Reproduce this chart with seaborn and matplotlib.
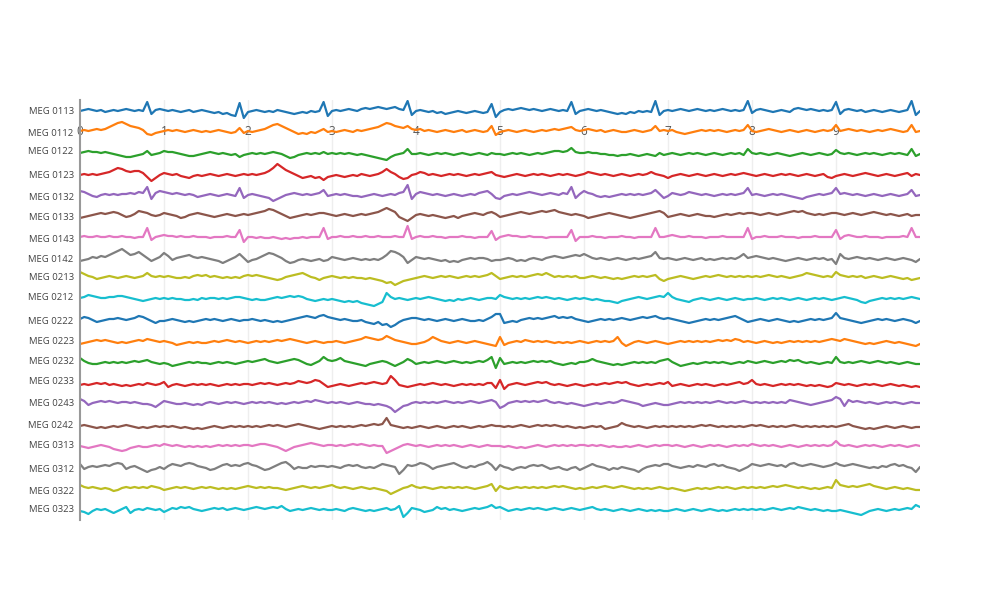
import numpy as np
import pandas as pd
import matplotlib
matplotlib.use("Agg")
import matplotlib.pyplot as plt
import seaborn as sns

# ---------------- data (signal deflection per channel, sampled every 0.05 s) ----------------
channels = ["MEG 0113", "MEG 0112", "MEG 0122", "MEG 0123", "MEG 0132",
            "MEG 0133", "MEG 0143", "MEG 0142", "MEG 0213", "MEG 0212",
            "MEG 0222", "MEG 0223", "MEG 0232", "MEG 0233", "MEG 0243",
            "MEG 0242", "MEG 0313", "MEG 0312", "MEG 0322", "MEG 0323"]

time_s = np.linspace(0, 10, 201)
x_ticks = [0, 1, 2, 3, 4, 5, 6, 7, 8, 9]

meg_0113 = [0,1,2,1,0,1,-1,0,1,0,1,2,1,0,1,0,9,-3,1,2,
            1,0,1,0,-1,0,1,-1,0,1,0,-1,-2,-1,-3,-2,-4,-5,8,-7,
            -1,0,1,0,-1,0,-1,1,0,-1,-2,-3,-2,-1,-2,0,-1,0,9,-5,
            0,1,0,1,2,1,0,2,3,2,3,4,3,2,3,4,2,1,10,-4,
            0,1,0,-1,0,-2,-1,-3,-2,-1,0,-1,-2,-1,0,-1,-2,-1,7,-6,
            -1,1,2,1,2,3,2,1,2,1,0,1,2,1,0,1,0,9,-3,0,
            1,2,1,0,1,0,-1,-2,-3,-2,-3,-1,-2,0,-1,0,-1,10,-4,0,
            1,0,1,2,1,0,1,2,1,0,1,0,1,2,1,0,1,0,1,10,
            -2,1,2,1,0,-1,0,1,0,-1,2,3,2,1,2,1,0,1,0,1,
            9,-3,1,2,1,0,1,-1,0,1,0,-1,0,1,0,-1,0,1,10,-4,
            0]
meg_0112 = [0,1,0,1,2,1,2,4,6,8,9,7,5,4,3,1,-3,-4,-2,-1,
            0,1,0,1,0,-1,0,1,0,-1,0,-1,0,1,0,-1,-2,-1,3,-2,
            0,-1,0,1,2,4,6,7,5,3,1,-1,-3,-2,-3,-1,-2,0,2,-1,
            0,-1,0,1,0,-1,1,0,1,2,3,4,6,8,7,5,4,3,5,2,
            1,2,0,1,0,-1,0,1,0,-1,0,1,-1,0,1,0,-1,0,5,-4,
            -1,0,1,0,-1,0,1,0,-1,0,1,0,1,2,1,2,3,4,1,0,
            1,2,1,0,1,-1,0,1,0,-1,-1,0,1,0,-1,0,1,5,0,1,
            0,1,-1,-2,-3,-2,-1,0,1,0,1,0,1,0,-1,0,1,0,1,6,
            0,-1,0,1,2,1,0,-1,0,1,0,-1,0,1,0,-1,0,1,0,1,
            6,0,1,2,1,0,1,0,-1,0,1,0,1,2,1,0,-1,0,6,-1,
            0]
meg_0122 = [1,2,3,2,2,1,2,1,0,-1,-2,-3,-3,-2,-1,0,3,-1,0,1,
            3,2,2,1,0,-1,-2,-2,-1,0,1,2,1,0,1,0,-1,0,-3,-1,
            0,1,0,1,0,1,2,1,0,-2,-4,-3,-1,0,1,0,1,0,2,0,
            1,0,1,0,1,0,-1,0,-1,-2,-3,-4,-5,-6,-3,-1,0,1,5,0,
            0,1,0,-1,0,1,0,1,0,-1,0,1,0,-1,0,1,0,-1,1,0,
            0,-1,0,1,0,1,0,-1,0,1,0,1,2,3,3,2,3,6,2,1,
            1,2,1,1,0,0,-1,-1,-2,-1,-1,0,-1,-2,-1,0,-1,-2,1,-1,
            0,1,0,-1,0,1,0,1,0,-1,0,1,0,-1,0,1,0,1,-1,5,
            1,0,1,0,-1,0,1,0,-1,-2,-1,0,1,0,-1,0,1,0,-1,0,
            4,1,0,1,0,-1,0,1,0,1,0,-1,0,1,0,1,0,-1,5,-2,
            0]
meg_0123 = [0,1,0,1,0,1,2,3,5,7,6,4,3,4,4,2,-2,-6,-3,0,
            2,1,0,1,-1,-2,-3,-1,0,-1,0,1,0,-1,0,1,0,-1,0,1,
            0,1,0,1,2,4,7,11,8,5,3,1,-1,-3,-2,-1,-3,-2,-5,-2,
            -1,0,-1,-2,-1,0,-1,1,0,-1,0,1,3,6,3,1,-2,-4,-3,0,
            1,3,2,0,1,0,-1,0,1,0,1,0,-1,0,1,0,1,2,3,0,
            -1,-2,-1,0,1,0,-1,0,1,0,1,0,-1,0,1,0,1,0,-1,0,
            1,3,2,1,0,1,0,-1,0,1,0,-1,0,1,0,1,3,1,0,-1,
            -3,-1,0,1,0,-1,0,1,0,-1,0,1,0,-1,0,1,0,1,2,1,
            0,-1,0,1,0,-1,0,1,0,1,0,-1,0,1,0,-1,0,1,-2,-3,
            -1,0,1,0,-1,0,1,2,1,0,-1,0,1,0,-1,0,1,2,-1,1,
            0]
meg_0132 = [4,3,1,-1,-2,0,1,0,1,0,1,1,2,1,3,2,8,-4,2,4,
            3,2,1,2,1,0,1,0,-2,-1,0,1,0,-1,0,1,0,-1,7,-3,
            0,1,0,-1,-2,-3,-6,-4,-2,0,1,2,1,0,1,0,1,2,5,-1,
            0,1,0,1,0,-1,-1,-2,-1,0,1,0,-1,0,1,0,2,3,10,-4,
            1,3,2,1,0,1,0,-1,0,1,0,-1,0,1,0,2,3,4,1,-3,
            -4,-1,0,1,0,1,2,3,2,1,0,1,2,1,0,2,1,8,-3,1,
            4,2,1,-1,-2,-1,-2,-1,0,1,0,1,0,1,0,1,2,5,1,-3,
            -1,2,1,0,1,3,2,1,0,1,0,-1,0,1,0,1,0,1,2,7,
            0,1,0,-1,0,1,0,1,0,-1,-2,-3,-4,-2,-1,0,1,0,1,2,
            7,1,2,1,0,1,0,-1,0,1,0,-1,0,1,0,-1,0,1,5,-1,
            0]
meg_0133 = [-3,-2,-1,0,1,2,1,2,3,2,0,-2,-1,1,4,3,2,0,-1,0,
            2,1,0,-1,-3,-2,0,1,2,1,0,-1,-2,-1,0,1,0,-1,0,1,
            0,1,2,3,4,6,5,3,1,-1,-3,-2,-1,0,1,0,1,2,2,1,
            0,-1,0,1,0,-1,0,1,0,1,2,3,5,7,5,3,-2,-4,-6,-3,
            0,1,0,-1,0,-1,-2,-3,-2,-1,-3,-1,0,1,2,1,0,2,3,1,
            -2,-1,0,1,2,3,2,1,2,3,4,3,4,5,3,2,1,0,1,0,
            -1,-3,-2,-1,0,1,2,1,0,-1,-2,-3,-2,-1,0,1,2,3,4,2,
            -2,-1,0,1,0,-1,0,1,0,-1,-1,-2,-1,0,1,0,1,2,1,2,
            2,1,0,1,2,1,0,1,2,3,4,3,4,2,1,0,1,0,1,2,
            2,1,0,1,2,1,0,1,2,3,2,1,0,1,0,-1,0,1,-1,0,
            0]
meg_0143 = [0,1,0,0,1,0,0,1,0,0,1,0,0,-1,0,0,9,-3,0,1,
            2,1,1,0,1,0,0,1,0,0,0,-1,0,0,0,1,0,0,7,-5,
            0,0,-1,0,-1,-1,0,-1,-2,-1,-2,-1,-1,0,-1,0,0,0,9,-2,
            0,0,1,0,0,1,0,0,1,0,0,1,0,0,0,1,0,0,11,-2,
            0,1,0,0,1,0,0,-1,0,0,0,1,0,0,-1,0,0,0,6,-3,
            0,1,2,1,1,0,0,1,0,0,0,-1,0,0,0,0,0,7,-4,0,
            0,0,1,0,0,-1,0,0,0,1,0,0,-1,0,0,0,0,9,0,0,
            1,2,1,0,0,1,0,0,0,-1,0,0,0,1,0,0,0,0,0,9,
            -2,0,0,1,0,0,0,1,0,0,0,-1,0,0,0,1,0,0,0,0,
            7,-2,1,2,1,0,0,1,0,0,0,-1,0,0,0,0,1,0,9,0,
            0]
meg_0142 = [-2,-1,0,2,1,3,2,4,6,8,10,7,4,5,7,4,1,-2,0,2,
            6,3,-1,1,2,3,4,2,1,2,1,0,-1,-2,-4,-2,0,2,5,1,
            -3,-1,0,2,4,6,5,3,1,-2,-4,-3,-1,0,-1,-2,-1,0,-2,-1,
            2,1,0,-1,0,1,0,-1,0,-1,0,-1,1,4,8,7,5,2,-4,-1,
            2,1,0,1,0,-1,-2,-1,-3,-2,-3,-1,0,1,0,1,1,0,-2,-1,
            -1,0,1,0,-2,-1,-2,0,1,0,-1,1,2,3,2,1,2,3,4,3,
            5,3,1,0,1,0,-1,0,1,0,-1,0,1,0,1,2,3,7,1,0,
            1,0,-1,0,1,0,-1,0,1,-1,0,-1,0,1,0,1,0,2,5,1,
            2,3,2,1,0,1,0,-1,-2,-1,0,1,0,-1,0,1,0,1,-1,0,
            -5,5,1,0,1,2,1,0,1,0,-1,0,1,0,-1,0,1,0,-1,-3,
            0]
meg_0213 = [5,3,1,0,-2,-1,0,1,0,-1,0,1,0,-1,0,1,4,1,0,1,
            0,1,0,-1,-1,0,-1,1,2,1,2,0,1,0,-1,0,-1,0,-1,1,
            2,1,2,1,0,-1,-2,-3,-2,0,1,2,3,4,2,0,-1,-3,-1,0,
            1,0,-1,0,-1,0,-1,-1,-2,-1,-2,-3,-4,-6,-5,-8,-6,-4,-3,-2,
            -1,0,1,0,-1,0,1,0,1,0,-1,0,1,0,1,0,1,2,4,1,
            -2,-1,0,1,0,1,0,1,2,3,2,4,2,0,1,0,1,0,1,-1,
            -1,0,1,0,-1,0,-1,-2,-1,-2,-1,0,1,0,1,0,1,2,-2,-4,
            -2,-1,0,1,0,-1,-2,-1,0,1,0,1,2,1,0,1,0,1,0,1,
            0,1,0,1,2,1,0,1,0,-1,0,1,2,4,3,2,1,0,1,0,
            5,2,1,0,1,0,1,-1,0,1,0,-1,0,1,0,-1,-2,-1,-3,-2,
            -1]
meg_0212 = [1,2,4,3,2,1,1,2,2,3,3,2,1,0,-1,-2,-1,0,1,0,
            1,0,1,0,0,-1,-1,0,-1,1,0,1,1,0,1,0,1,2,2,1,
            0,-1,0,-1,-1,0,1,2,1,2,3,2,3,2,0,-1,-2,-1,0,-1,
            0,-1,-2,-3,-2,-3,-2,-4,-5,-6,-7,-5,-3,6,2,0,1,0,-1,0,
            1,0,1,2,1,0,-1,-2,-1,-2,0,-1,0,1,0,-1,0,1,1,0,
            4,2,1,0,1,0,1,0,1,2,1,2,1,0,1,0,-1,0,1,0,
            1,0,-1,0,-1,-2,-2,-3,-4,-2,-1,0,1,2,1,0,1,2,3,2,
            6,2,0,-1,-2,-3,-1,0,1,0,-1,0,1,0,-1,0,1,0,-1,0,
            0,1,0,-1,0,1,0,1,0,-1,0,1,0,-1,0,1,0,1,0,-1,
            0,1,2,1,0,-1,-3,-4,-2,-1,0,1,0,1,0,1,0,1,2,1,
            0]
meg_0222 = [1,3,2,0,-2,-1,0,1,1,2,1,0,1,2,4,3,1,-1,-3,-1,
            -1,0,1,0,-1,-2,-1,-2,-1,0,1,0,1,0,-1,0,1,0,-1,0,
            0,1,0,-1,0,-1,-2,-1,-2,-1,0,1,2,3,4,3,2,4,5,3,
            2,1,0,1,0,-1,-1,0,-2,-3,-4,-2,-5,-4,-7,-5,-2,0,1,2,
            2,1,0,1,0,-1,0,1,0,-1,0,1,0,-1,-1,0,-1,1,3,6,
            6,-3,-2,-1,-2,0,1,2,1,2,1,2,3,4,2,3,2,3,1,0,
            -1,-2,-1,0,1,0,1,0,1,2,1,0,1,2,3,2,3,4,2,1,
            2,1,0,-1,-2,-3,-2,-1,0,1,0,1,0,1,2,3,4,2,0,-2,
            -1,0,1,0,-1,0,1,0,-1,-2,-1,-2,-1,0,1,0,1,0,1,2,
            7,2,1,0,-1,-2,-3,-2,-1,0,1,0,1,0,-1,0,1,0,-1,-3,
            -1]
meg_0223 = [-2,-1,0,1,2,1,2,1,0,-1,0,-1,0,1,2,1,3,2,1,0,
            1,0,-1,-3,-2,-1,0,-1,0,-1,-1,0,1,0,1,2,1,0,1,0,
            -1,0,1,0,1,0,1,2,1,2,3,2,1,0,-1,0,1,0,-1,0,
            0,1,0,-1,0,1,2,3,5,4,3,2,3,6,4,2,1,0,-1,-2,
            -2,-1,0,2,5,3,1,0,-1,0,1,0,-1,0,1,0,-1,-2,-3,-4,
            5,-3,-1,0,1,0,2,1,0,1,0,1,0,-1,0,-1,0,-1,0,1,
            0,-1,0,1,0,1,0,1,5,-1,-4,-2,0,1,0,-1,0,1,0,-1,
            -2,-1,0,1,0,1,0,1,0,1,0,1,2,1,2,1,3,2,0,1,
            0,-1,0,1,0,-1,0,-1,0,1,0,1,0,1,0,1,0,1,2,3,
            2,1,3,2,1,0,-1,-2,-1,-2,-1,0,1,0,-1,0,-1,-2,-3,-4,
            -2]
meg_0232 = [5,2,0,-1,-1,0,1,0,1,0,1,0,1,2,1,2,3,1,0,-1,
            0,-1,-3,-2,-1,0,1,0,1,0,0,-1,0,1,0,1,0,-1,0,1,
            2,1,2,3,4,2,1,0,1,2,3,4,3,1,-1,-2,0,2,6,3,
            2,3,5,2,1,0,-1,-2,-3,-1,0,1,2,1,-1,-3,-1,1,4,2,
            -1,0,1,0,1,2,1,0,1,2,1,0,1,0,1,2,1,3,6,-5,
            5,-1,0,1,0,1,0,1,2,1,2,1,2,0,-1,-2,-1,0,-1,1,
            1,2,4,2,1,0,-1,-2,-1,-2,-1,0,1,0,1,0,1,0,2,3,
            4,1,-1,-3,-2,-1,0,-1,0,1,0,1,0,1,0,-1,0,1,0,2,
            1,0,1,2,1,0,1,2,1,3,2,3,1,0,1,0,-1,0,1,0,
            6,1,0,1,0,1,2,1,0,1,2,1,0,1,0,-1,0,1,0,-1,
            -1]
meg_0233 = [0,1,0,1,2,1,2,0,1,0,-1,0,-1,0,1,0,2,1,0,1,
            3,-2,0,1,0,-1,0,1,0,1,0,1,0,-1,0,1,0,1,0,1,
            1,0,1,2,1,2,1,0,1,2,1,2,4,3,2,3,5,4,1,-2,
            -1,0,1,0,-1,0,1,2,1,2,3,2,1,2,9,5,0,-1,-2,-1,
            0,1,0,1,2,1,0,1,0,-1,0,1,0,1,0,1,0,2,2,-3,
            5,-4,0,1,2,1,0,1,2,3,2,3,1,0,1,0,-1,0,1,0,
            -1,0,1,0,1,2,1,2,3,2,3,1,0,-1,0,1,0,1,2,1,
            3,-1,0,1,0,-1,0,1,0,1,0,-1,0,1,0,1,2,3,1,2,
            5,1,0,1,0,-1,0,1,0,1,0,1,0,-1,0,-1,0,-1,-2,-1,
            2,1,0,1,0,-1,0,1,0,1,0,-1,0,1,0,-1,0,-1,-2,-1,
            -2]
meg_0243 = [4,2,-2,0,1,2,1,2,1,0,1,1,0,1,0,-1,-1,-2,-4,-1,
            2,1,0,-1,-1,0,-1,-2,-1,-2,0,1,0,-1,0,1,0,1,0,-1,
            0,1,0,1,0,1,0,-1,0,-1,0,1,0,1,2,1,3,2,1,0,
            1,0,1,0,-1,0,1,0,-1,-1,-2,-1,-2,-3,-5,-9,-6,-3,-2,0,
            1,0,1,0,1,0,1,2,1,0,1,0,1,2,1,0,1,2,3,1,
            -5,-3,0,1,2,1,2,1,2,1,2,3,1,0,1,0,-1,0,-1,-2,
            -3,-2,-1,0,-1,0,1,0,1,3,2,1,0,-1,-3,-2,-1,0,-1,-2,
            -2,-1,0,1,0,1,0,1,0,1,0,1,2,1,0,1,0,1,2,1,
            0,1,0,1,0,1,0,1,0,3,2,1,0,-1,-2,-1,0,1,2,3,
            6,4,-3,3,1,2,1,0,1,0,-1,0,1,0,1,0,-1,0,1,0,
            0]
meg_0242 = [1,2,1,0,-1,0,-1,0,1,0,1,2,1,0,-1,0,-1,0,1,0,
            1,0,1,0,-1,0,-1,-2,-1,-2,-1,0,1,0,-1,0,1,0,1,0,
            1,0,1,0,1,2,1,2,1,0,1,2,3,2,1,0,-1,-2,-1,0,
            1,0,1,0,1,0,1,2,1,2,3,2,3,9,2,1,0,-1,0,-1,
            0,1,0,-1,0,1,0,-1,0,1,0,1,0,-1,0,1,0,1,2,1,
            1,0,1,0,1,2,1,0,1,2,1,2,1,2,1,0,1,0,-1,0,
            -1,0,1,0,1,-2,-1,0,1,4,2,1,0,1,0,-1,0,1,0,1,
            0,1,0,1,0,1,0,1,2,1,2,1,0,1,0,1,0,1,0,1,
            2,1,2,1,0,1,0,1,0,1,2,1,0,1,0,1,0,1,0,1,
            0,1,2,3,1,0,-1,-2,-1,-2,-1,0,1,0,-1,0,1,0,-1,0,
            0]
meg_0313 = [0,-1,-2,-1,0,1,0,-1,-3,-4,-5,-4,-2,-1,0,-1,-1,0,1,0,
            2,1,0,1,0,-1,0,-1,0,-1,0,-1,0,1,0,1,0,1,0,1,
            1,0,1,2,2,1,0,-1,-3,-5,-3,-1,0,1,2,3,2,1,0,1,
            1,0,1,0,1,2,1,2,1,0,1,0,0,-7,-5,-3,-1,1,2,1,
            0,1,0,-1,0,1,0,1,0,1,0,-1,0,1,0,-1,0,1,0,0,
            0,-1,0,-1,-2,-1,-2,-1,0,1,0,-1,0,1,0,1,0,1,0,1,
            1,0,1,0,1,0,-1,0,-1,-1,0,-1,0,1,0,-1,0,1,0,1,
            1,0,1,0,-1,0,1,0,-1,0,1,0,1,0,-1,0,1,0,1,0,
            2,1,0,1,0,1,0,-1,0,1,0,-1,0,1,0,1,0,1,0,1,
            5,1,0,1,0,-1,0,1,0,1,0,-1,0,1,0,1,0,-1,0,1,
            0]
meg_0312 = [3,-2,0,1,0,1,2,1,3,4,3,-2,0,1,-1,-3,-5,-3,-2,0,
            -2,1,3,2,1,3,4,3,1,0,-1,-3,-2,0,2,3,1,2,1,3,
            4,2,1,-1,-3,-2,0,2,4,5,2,-2,0,-1,-1,1,0,1,1,0,
            1,0,-1,1,2,1,2,0,-1,0,-1,1,3,2,1,0,-7,-3,2,1,
            2,4,3,1,-2,0,1,2,3,4,2,0,-1,1,0,2,3,5,2,-3,
            2,0,-1,-3,-1,0,-1,1,2,1,2,0,-2,-1,0,-2,-3,-1,0,-3,
            -1,1,3,1,0,-1,-3,-1,-2,0,-1,-2,-3,-5,-2,0,1,2,1,3,
            3,1,0,-1,0,1,0,2,1,0,2,3,1,2,0,-1,-2,-4,-2,0,
            3,2,1,2,3,2,1,2,0,3,4,2,1,2,3,2,1,0,1,2,
            4,2,1,2,3,2,1,0,-1,0,-1,1,0,2,3,1,2,0,-1,-5,
            0]
meg_0322 = [3,1,0,1,0,-1,0,-1,-3,-2,0,1,0,1,0,1,0,2,1,0,
            -2,-1,0,1,0,1,0,-1,0,1,0,1,0,-1,0,-1,0,-1,0,1,
            2,1,0,1,0,1,0,0,-1,-2,-1,0,1,2,1,0,1,0,1,2,
            3,1,0,1,0,-1,0,1,0,-1,0,-1,-2,-3,-6,-4,-2,0,1,3,
            1,0,1,0,-1,0,1,0,1,0,1,0,1,0,-1,0,1,2,4,-3,
            2,0,-1,0,1,0,1,0,1,0,1,0,1,2,1,2,1,0,-1,0,
            -1,0,1,0,1,2,1,0,1,2,1,0,-1,0,-1,0,-1,0,1,0,
            -1,0,-1,-2,-3,-2,-1,0,-1,0,-1,0,1,0,1,0,-1,0,1,0,
            1,0,1,0,1,2,1,2,3,2,1,0,1,0,-1,0,-1,0,1,0,
            8,3,2,1,2,1,2,3,4,2,1,0,-1,0,1,0,-1,0,-1,-2,
            -2]
meg_0323 = [-1,-2,-4,-1,1,0,1,-1,-3,-1,1,3,-3,0,1,0,2,1,0,1,
            -2,0,2,1,3,2,3,1,0,-1,0,1,2,1,2,0,1,2,1,0,
            1,2,3,2,1,2,3,2,4,1,-1,0,1,0,1,2,1,0,1,0,
            0,1,0,-1,1,2,1,0,-1,0,-1,0,1,2,0,1,4,-7,-3,2,
            1,0,-2,-1,0,3,1,2,0,1,0,-1,0,1,2,1,2,3,5,2,
            3,1,-1,0,1,0,1,2,1,2,1,0,1,2,1,0,1,2,1,0,
            1,2,3,1,0,1,0,-1,0,1,0,-1,0,1,0,-1,0,-1,0,-1,
            -1,0,1,0,-1,0,1,0,-1,0,1,0,-1,0,-1,0,1,0,1,0,
            1,0,1,0,1,2,1,0,1,2,1,3,2,1,0,1,0,-1,0,-1,
            -1,0,-1,-2,-3,-4,-5,-3,-1,0,1,0,-1,0,1,0,1,2,1,5,
            3]

signals = [meg_0113, meg_0112, meg_0122, meg_0123, meg_0132,
           meg_0133, meg_0143, meg_0142, meg_0213, meg_0212,
           meg_0222, meg_0223, meg_0232, meg_0233, meg_0243,
           meg_0242, meg_0313, meg_0312, meg_0322, meg_0323]

# ---------------- layout (vertical stacking of the traces, in plot pixel units) ----------------
trace_base = [111, 131, 154, 175, 195, 215, 237, 259, 277, 299,
              320, 342, 363, 385, 403, 427, 446, 467, 488, 510]
label_pos = [110, 133, 150, 175, 196, 216, 238, 259, 276, 297,
             321, 341, 360, 381, 403, 425, 444, 469, 490, 508]

for name, s in zip(channels, signals):
    if len(s) != len(time_s):
        raise ValueError(f"{name}: {len(s)} samples")

rows = []
for name, base, s in zip(channels, trace_base, signals):
    for t, v in zip(time_s, s):
        rows.append((name, t, base - v))
df = pd.DataFrame(rows, columns=["channel", "time", "pos"])

sns.set_style("white")
plt.rcParams["font.family"] = ["Open Sans", "DejaVu Sans"]

palette = sns.color_palette("tab10", 10) * 2
fig = plt.figure(figsize=(10, 6), dpi=100)
ax = fig.add_axes([0.08, 1 - 520 / 600, 0.84, 420 / 600])

for x in x_ticks[1:]:
    ax.axvline(x, color="#eeeeee", lw=1, zorder=0)

sns.lineplot(data=df, x="time", y="pos", hue="channel", hue_order=channels,
             palette=palette, estimator=None, sort=False, legend=False,
             linewidth=1.6, ax=ax, zorder=2)

ax.set_xlim(0, 10)
ax.set_ylim(520, 100)
ax.set_xlabel("")
ax.set_ylabel("")

ax.set_yticks(label_pos)
ax.set_yticklabels(channels)
ax.tick_params(axis="y", length=0, pad=4.5, labelsize=6.8, labelcolor="#444444")

ax.xaxis.set_ticks_position("top")
ax.set_xticks(x_ticks)
ax.set_xticklabels([str(v) for v in x_ticks])
ax.tick_params(axis="x", length=0, pad=-27, labelsize=8.5, labelcolor="#555555")

for side in ["top", "right", "bottom"]:
    ax.spines[side].set_visible(False)
ax.spines["left"].set_color("#999999")
ax.spines["left"].set_linewidth(1.5)

fig.savefig("out.png", dpi=100)
